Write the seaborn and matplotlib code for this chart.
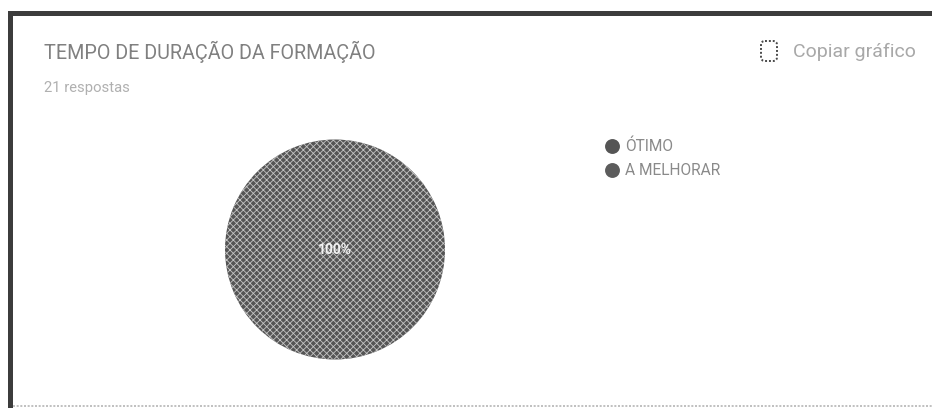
import matplotlib
matplotlib.use("Agg")
import matplotlib.pyplot as plt
from matplotlib.patches import FancyBboxPatch
import seaborn as sns

# Data
categories = ["ÓTIMO", "A MELHORAR"]
values = [100, 0]
title = "TEMPO DE DURAÇÃO DA FORMAÇÃO"
subtitle = "21 respostas"
copy_label = "Copiar gráfico"

W, H = 932, 408

sns.set_theme(style="white")
plt.rcParams["font.family"] = ["Roboto", "DejaVu Sans"]
plt.rcParams["hatch.linewidth"] = 0.6

colors = sns.color_palette(["#555555", "#5c5c5c"])

fig = plt.figure(figsize=(W / 100, H / 100), dpi=100, facecolor="white")


def px(x, y):
    """Pixel position from the top left to figure fraction"""
    return x / W, 1 - y / H


# Frame round the card
frame = fig.add_axes([0, 0, 1, 1], zorder=0)
frame.set_xlim(0, W)
frame.set_ylim(H, 0)
frame.axis("off")
frame.plot([10, 10, 932], [408, 12.5, 12.5], color="#3c3c3c", lw=3.6, solid_joinstyle="miter")
frame.plot([13, 932], [406, 406], color="#b5b5b5", lw=1.2, ls=(0, (1.2, 1)))

# Copy icon
frame.add_patch(FancyBboxPatch((761, 41), 16, 20, boxstyle="round,pad=0,rounding_size=4",
                               fill=False, ec="#4a4a4a", lw=1.4, ls=(0, (1, 1))))

# Pie, the 0% slice leaves no wedge
pie_ax = fig.add_axes([(335 - 110) / W, 1 - (249.5 + 110) / H, 220 / W, 220 / H])
wedges, _ = pie_ax.pie(
    values[:1],
    colors=colors[:1],
    startangle=90,
    counterclock=False,
    radius=1.0,
    wedgeprops={"linewidth": 0, "edgecolor": "#c4c4c4", "hatch": "xxxxx"},
)
pie_ax.set_xlim(-1, 1)
pie_ax.set_ylim(-1, 1)
pie_ax.text(0, 0, f"{values[0]}%", color="#f2f2f2", ha="center", va="center", fontsize=10, fontweight="bold")

# Texts
x, y = px(44, 52)
fig.text(x, y, title, fontsize=14.2, color="#808080", va="center", ha="left")
x, y = px(44, 88)
fig.text(x, y, subtitle, fontsize=10.7, color="#b0b0b0", va="center", ha="left")
x, y = px(793, 52)
fig.text(x, y, copy_label, fontsize=14, color="#a8a8a8", va="center", ha="left")

# Legend
legend_y = [146, 170]
for cat, ly, col in zip(categories, legend_y, colors):
    frame.scatter([612], [ly], s=115, color=col, linewidths=0)
    x, y = px(625, ly)
    fig.text(x, y, cat, fontsize=11.2, color="#8a8a8a", va="center", ha="left")

fig.savefig("out.png", dpi=100)
